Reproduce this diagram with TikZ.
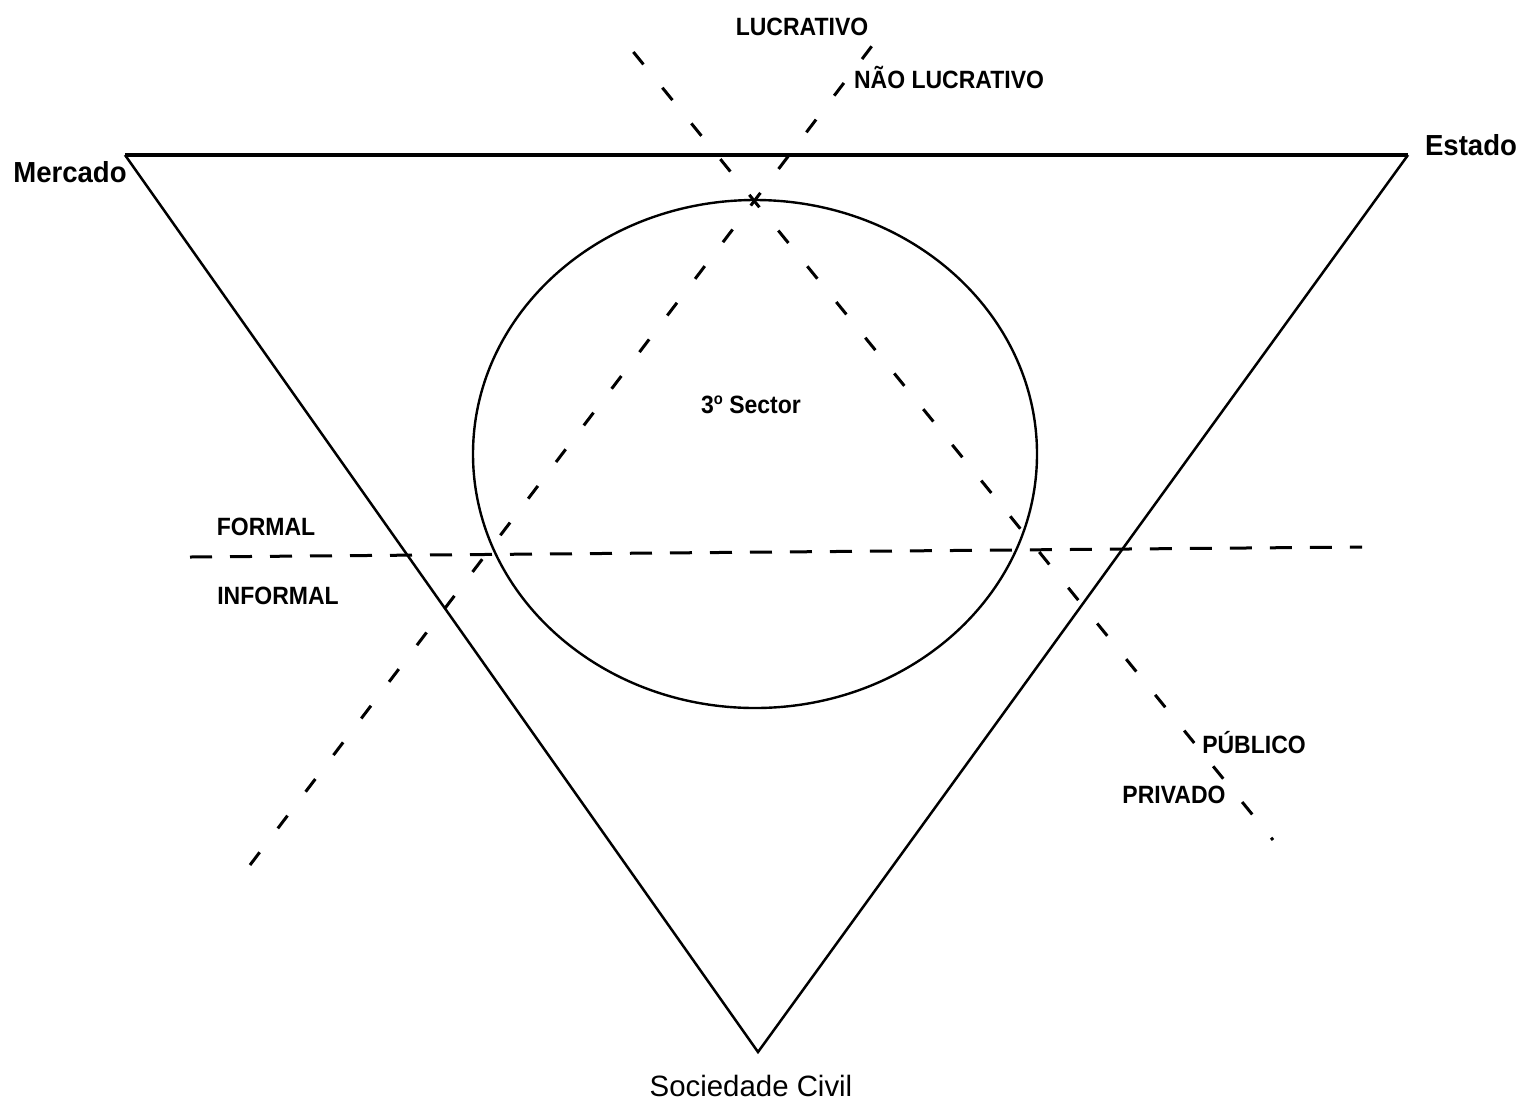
\documentclass[tikz,border=0pt]{standalone}
\usepackage{fontspec}
\setmainfont{Liberation Sans}
\usetikzlibrary{shapes.geometric}
\begin{document}
\begin{tikzpicture}[x=0.5pt,y=-0.5pt,
  lbl/.style={font=\bfseries\fontsize{12.5}{14}\selectfont, inner sep=0pt, xscale=0.92},
  pole/.style={font=\bfseries\fontsize{14.5}{16}\selectfont, inner sep=0pt, xscale=0.95},
  side/.style={line width=1.25pt, black},
  divider/.style={line width=1.5pt, black, dash pattern=on 8pt off 15pt},
  hdivider/.style={line width=1.5pt, black, dash pattern=on 11pt off 9pt}]
\useasboundingbox (0,0) rectangle (1529,1104);
\fill[white] (0,0) rectangle (1529,1104);
% triangle vertices
\coordinate (M) at (125,155);
\coordinate (E) at (1408,155);
\coordinate (S) at (758,1052);
\draw[line width=1.7pt] (M) -- (E);
\draw[side] (M) -- (S) -- (E);
% circle
\node (circ) [draw, line width=1.2pt, ellipse, minimum width=282pt, minimum height=254pt, inner sep=0pt] at (755,454) {};
% dashed dividers
\coordinate (a1) at (622,38);
\coordinate (a2) at (1273,840);
\coordinate (b1) at (250,865);
\coordinate (b2) at (878,38);
\coordinate (h1) at (190,557);
\coordinate (h2) at (1362,547);
\draw[divider, dash phase=14pt] (a1) -- (a2);
\draw[divider] (b1) -- (b2);
\draw[hdivider] (h1) -- (h2);
% labels
\node[lbl] (luc) at (802,27) {LUCRATIVO};
\node[lbl] (nluc) at (949,77) {NÃO LUCRATIVO};
\node[lbl] (form) at (266,527) {FORMAL};
\node[lbl] (inf) at (278,596) {INFORMAL};
\node[lbl] (sect) at (751,405) {3\raisebox{0.7ex}{\fontsize{8}{9}\selectfont o} Sector};
\node[lbl] (pub) at (1254,743) {PÚBLICO};
\node[lbl] (priv) at (1174,795) {PRIVADO};
\node[pole] (merc) at (70,172) {Mercado};
\node[pole] (est) at (1471,145) {Estado};
\node[font=\fontsize{14.7}{17}\selectfont, inner sep=0pt] (soc) at (751,1086) {Sociedade Civil};
\end{tikzpicture}
\end{document}
